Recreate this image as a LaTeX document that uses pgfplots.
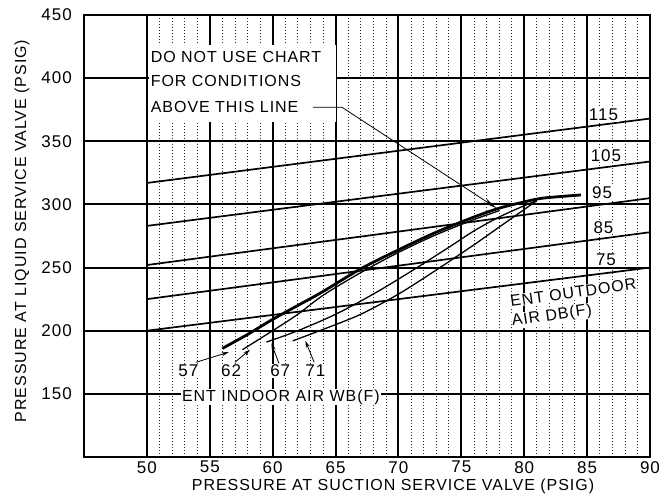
\documentclass[border=0pt]{standalone}
\usepackage{pgfplots}
\pgfplotsset{compat=1.18}
\usepackage{fontspec}
\setmainfont{Liberation Sans}[LetterSpace=6]
\usetikzlibrary{arrows.meta}
\begin{document}
\begin{tikzpicture}
\path (-84pt,-41pt) rectangle (584pt,457pt);
\begin{axis}[
  at={(0pt,0pt)}, anchor=south west,
  width=566pt, height=442pt, scale only axis,
  xmin=45, xmax=90, ymin=100, ymax=450,
  xtick={50,55,...,90}, ytick={150,200,...,450},
  minor x tick num=4,
  grid=both,
  major grid style={line width=2pt, black},
  minor grid style={dash pattern=on 0.8pt off 2.2pt, line width=0.7pt, black!85},
  axis line style={line width=2pt},
  tick style={draw=none},
  ticklabel style={font=\fontsize{17}{17}\selectfont},
  /pgf/number format/assume math mode=true,
  xticklabel style={inner sep=0pt, yshift=-4pt},
  yticklabel style={inner sep=0pt, xshift=-12pt},
  clip=false,
]
% outdoor DB lines
\addplot[black, line width=1.7pt] coordinates {(50,317) (90,368)};
\addplot[black, line width=1.7pt] coordinates {(50,283) (90,334)};
\addplot[black, line width=1.7pt] coordinates {(50,252) (90,305)};
\addplot[black, line width=1.7pt] coordinates {(50,225) (90,278)};
\addplot[black, line width=1.7pt] coordinates {(50,200) (90,250)};
% indoor WB curves
\addplot[black, line width=2.8pt, smooth] coordinates {(56,186) (58,197) (60,209) (62,220) (64,231) (67,249) (70,264) (73,278) (76,290) (78,297) (80,302) (81.5,305) (84.5,307.5)};
\addplot[black, line width=1.3pt, smooth] coordinates {(57.6,185) (60,200) (62,213) (64,228) (67,246) (70,262) (73,276) (76,288) (78,295)};
\addplot[black, line width=1.3pt, smooth] coordinates {(59.5,191) (62,200) (65,213) (68,229) (71,247) (74,266) (76,279) (78,290) (80,299) (81,303)};
\addplot[black, line width=1.3pt, smooth] coordinates {(61.6,192) (64,201) (67,213) (70,229) (73,248) (76,268) (78,282) (80,296) (81,303)};
% note box
\fill[white] (axis cs:50.2,365) rectangle (axis cs:65.0,426);
\node[anchor=base west, inner sep=0pt, font=\fontsize{16}{16}\selectfont] at (axis cs:50.3,412) {DO NOT USE CHART};
\node[anchor=base west, inner sep=0pt, font=\fontsize{16}{16}\selectfont] at (axis cs:50.3,393) {FOR CONDITIONS};
\node[anchor=base west, inner sep=0pt, font=\fontsize{16}{16}\selectfont] at (axis cs:50.3,372.4) {ABOVE THIS LINE};
\draw[black, line width=0.8pt, -{Stealth[length=14pt, width=5pt]}] (axis cs:63.2,377) -- (axis cs:65.5,377) -- (axis cs:77.8,297);
% outdoor labels
\node[fill=white, inner sep=1pt, font=\fontsize{17}{17}\selectfont] at (axis cs:86.3,371) {115};
\node[fill=white, inner sep=1pt, font=\fontsize{17}{17}\selectfont] at (axis cs:86.5,339) {105};
\node[fill=white, inner sep=1pt, font=\fontsize{17}{17}\selectfont] at (axis cs:86.2,309) {95};
\node[fill=white, inner sep=1pt, font=\fontsize{17}{17}\selectfont] at (axis cs:86.3,282) {85};
\node[fill=white, inner sep=1pt, font=\fontsize{17}{17}\selectfont] at (axis cs:86.5,256) {75};
\node[fill=white, inner sep=0.5pt, rotate=8, font=\fontsize{16}{16}\selectfont] at (axis cs:83.9,230.3) {ENT OUTDOOR};
\node[fill=white, inner sep=0.5pt, rotate=8, font=\fontsize{16}{16}\selectfont] at (axis cs:82.2,211.5) {AIR DB(F)};
% indoor labels
\node[fill=white, inner sep=1pt, font=\fontsize{17}{17}\selectfont] at (axis cs:53.3,168) {57};
\node[fill=white, inner sep=1pt, font=\fontsize{17}{17}\selectfont] at (axis cs:56.7,168) {62};
\node[fill=white, inner sep=1pt, font=\fontsize{17}{17}\selectfont] at (axis cs:60.6,168) {67};
\node[fill=white, inner sep=1pt, font=\fontsize{17}{17}\selectfont] at (axis cs:63.4,168) {71};
\draw[black, line width=0.8pt, -{Stealth[length=7pt, width=4pt]}] (axis cs:53.9,175) -- (axis cs:56.5,183);
\draw[black, line width=0.8pt, -{Stealth[length=7pt, width=4pt]}] (axis cs:57,175) -- (axis cs:58.2,185);
\draw[black, line width=0.8pt, -{Stealth[length=7pt, width=4pt]}] (axis cs:60.5,174) -- (axis cs:59.9,190);
\draw[black, line width=0.8pt, -{Stealth[length=7pt, width=4pt]}] (axis cs:63.3,175) -- (axis cs:62.6,192);
\node[fill=white, inner sep=1pt, font=\fontsize{16}{16}\selectfont] at (axis cs:60.65,147.5) {ENT INDOOR AIR WB(F)};
\end{axis}
\node[font=\fontsize{16}{16}\selectfont] at (309pt,-29pt) {PRESSURE AT SUCTION SERVICE VALVE (PSIG)};
\node[rotate=90, font=\fontsize{16}{16}\selectfont] at (-62pt,226pt) {PRESSURE AT LIQUID SERVICE VALVE (PSIG)};
\end{tikzpicture}
\end{document}
